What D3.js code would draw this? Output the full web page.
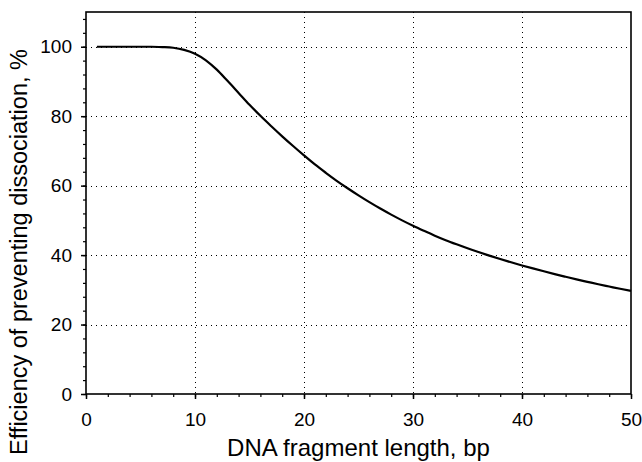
<!DOCTYPE html>
<html>
<head>
<meta charset="utf-8">
<script src="https://cdn.jsdelivr.net/npm/d3@7"></script>
<style>
html,body{margin:0;padding:0;background:#fff;}
text{font-family:"Liberation Sans",Arial,sans-serif;fill:#000;}
</style>
</head>
<body>
<svg id="chart" width="642" height="462"></svg>
<script>
const lengthBp = [1,2,4,6,7,8,9,10,11,12,13,14,15,16,17,18,19,20,21,22,23,24,25,26,27,28,29,30,31,32,33,34,35,36,37,38,39,40,41,42,43,44,45,46,47,48,49,50];
const efficiency = [100,100,100,100,99.9,99.7,99.1,98,96.1,93.4,90.1,86.7,83.3,80.1,77.1,74.2,71.4,68.7,66.1,63.7,61.4,59.25,57.2,55.25,53.4,51.65,50.0,48.45,47.0,45.6,44.3,43.1,41.95,40.87,39.84,38.86,37.92,37.02,36.16,35.33,34.53,33.76,33.0,32.3,31.6,30.95,30.3,29.7];
const xTicks = [0,10,20,30,40,50];
const yTicks = [0,20,40,60,80,100];
const xTitle = "DNA fragment length, bp";
const yTitle = "Efficiency of preventing dissociation, %";

const svg = d3.select("#chart");
const L = 86, R = 631, T = 12, B = 394;
const x = d3.scaleLinear().domain([0,50]).range([L,R]);
const y = d3.scaleLinear().domain([0,110]).range([B,T]);

// gridlines
const g = svg.append("g");
g.selectAll(".gx").data(xTicks.filter(d=>d>0&&d<50)).enter().append("line")
  .attr("x1",d=>Math.round(x(d))+0.5).attr("x2",d=>Math.round(x(d))+0.5)
  .attr("y1",T).attr("y2",B)
  .attr("stroke","#000").attr("stroke-width",1).attr("stroke-dasharray","1,4");
g.selectAll(".gy").data(yTicks.filter(d=>d>0)).enter().append("line")
  .attr("y1",d=>Math.round(y(d))+0.5).attr("y2",d=>Math.round(y(d))+0.5)
  .attr("x1",L).attr("x2",R)
  .attr("stroke","#000").attr("stroke-width",1).attr("stroke-dasharray","1,4");

// minor ticks
const xMinor = d3.range(0,51,2);
svg.append("g").attr("transform",`translate(0,${B})`)
  .call(d3.axisBottom(x).tickValues(xMinor).tickSize(3).tickFormat(""))
  .call(s=>s.select(".domain").remove())
  .selectAll("line").attr("stroke-width",1.2);
const yMinor = d3.range(0,111,4);
svg.append("g").attr("transform",`translate(${L},0)`)
  .call(d3.axisLeft(y).tickValues(yMinor).tickSize(3).tickFormat(""))
  .call(s=>s.select(".domain").remove())
  .selectAll("line").attr("stroke-width",1.2);

// major axes
const xa = svg.append("g").attr("transform",`translate(0,${B})`)
  .call(d3.axisBottom(x).tickValues(xTicks).tickSize(5).tickPadding(14));
xa.select(".domain").remove();
xa.selectAll("line").attr("stroke-width",1.5);
xa.selectAll("text").style("font-size","19px");

const ya = svg.append("g").attr("transform",`translate(${L},0)`)
  .call(d3.axisLeft(y).tickValues(yTicks).tickSize(5).tickPadding(9));
ya.select(".domain").remove();
ya.selectAll("line").attr("stroke-width",1.5);
ya.selectAll("text").style("font-size","19px");

// frame
svg.append("rect").attr("x",L).attr("y",T).attr("width",R-L).attr("height",B-T)
  .attr("fill","none").attr("stroke","#000").attr("stroke-width",1.6);

// curve
const line = d3.line().x((d,i)=>x(lengthBp[i])).y(d=>y(d)).curve(d3.curveMonotoneX);
svg.append("path").datum(efficiency).attr("d",line)
  .attr("fill","none").attr("stroke","#000").attr("stroke-width",2.2);

// titles
svg.append("text").attr("x",(L+R)/2).attr("y",456).attr("text-anchor","middle")
  .style("font-size","24px").text(xTitle);
svg.append("text").attr("transform",`translate(27,${252}) rotate(-90)`).attr("text-anchor","middle")
  .style("font-size","23.5px").text(yTitle);
</script>
</body>
</html>
